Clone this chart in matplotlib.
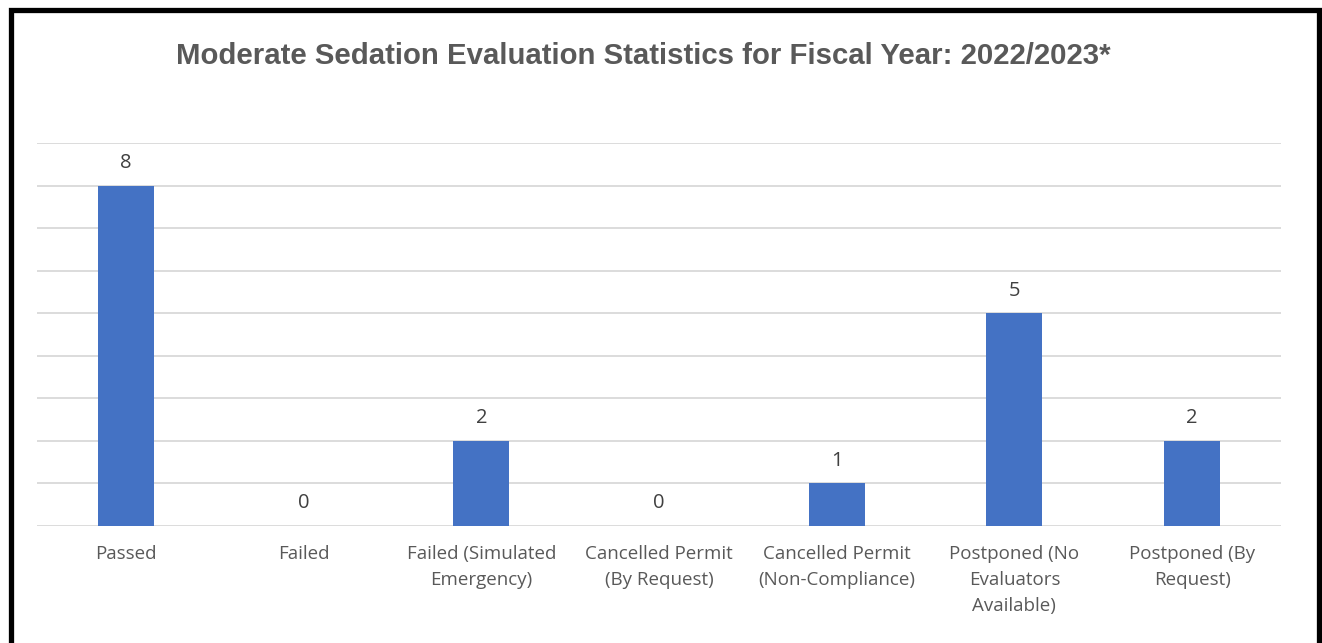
import matplotlib.pyplot as plt
from matplotlib.patches import Rectangle

categories = ["Passed", "Failed", "Failed (Simulated\nEmergency)",
              "Cancelled Permit\n(By Request)", "Cancelled Permit\n(Non-Compliance)",
              "Postponed (No\nEvaluators\nAvailable)", "Postponed (By\nRequest)"]
counts = [8, 0, 2, 0, 1, 5, 2]

gray = "#595959"
blue = "#4472C4"

fig = plt.figure(figsize=(13.22, 6.43), dpi=100)
ax = fig.add_axes([37/1322, 117/643, 1244/1322, 383/643])

x = range(len(categories))
bars = ax.bar(x, counts, width=0.315, color=blue, zorder=3)

ax.set_xlim(-0.5, len(categories) - 0.5)
ax.set_ylim(0, 9)
ax.set_yticks(range(0, 10))
ax.set_yticklabels([])
ax.tick_params(axis="y", length=0)
ax.tick_params(axis="x", length=0, pad=14)
ax.grid(axis="y", color="#D9D9D9", linewidth=1.3, zorder=0)
for s in ax.spines.values():
    s.set_visible(False)

ax.set_xticks(list(x))
ax.set_xticklabels(categories, fontsize=13.5, color=gray, family="Open Sans",
                   linespacing=1.55)

# value labels above each bar
for i, v in enumerate(counts):
    ax.annotate(str(v), (i, v), xytext=(0, 9), textcoords="offset points",
                ha="center", va="bottom", fontsize=14.5, color="#404040",
                family="Open Sans")

fig.text(643/1322, 1 - 56/643, "Moderate Sedation Evaluation Statistics for Fiscal Year: 2022/2023*",
         ha="center", va="center", fontsize=21.2, fontweight="bold", color=gray,
         family="Liberation Sans")

# black frame around the chart
fig.patches.append(Rectangle((10.5/1322, -0.05), 1308/1322, 1.05 - 9.5/643,
                             transform=fig.transFigure, fill=False,
                             edgecolor="black", linewidth=3.8))

fig.savefig("out.png", dpi=100)
